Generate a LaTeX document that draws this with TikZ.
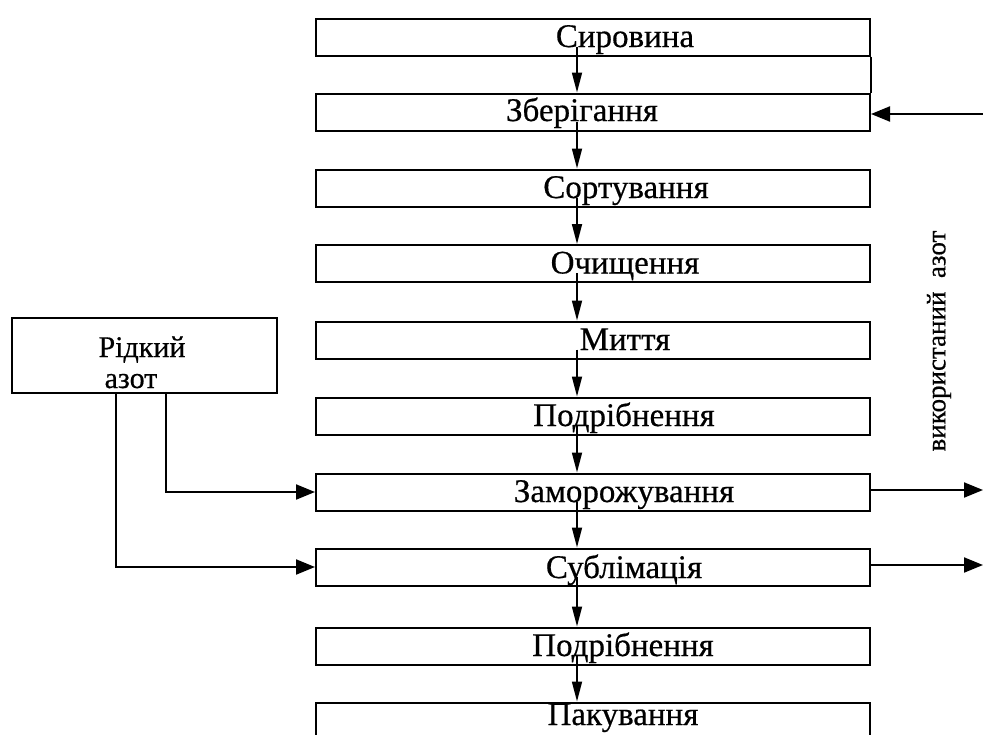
\documentclass[tikz,border=0pt]{standalone}
\usepackage{fontspec}
\setmainfont{Liberation Serif}[FakeBold=0.5]
\usetikzlibrary{arrows.meta,calc}
\tikzset{
  stage/.style={draw, line width=2pt, minimum width=554pt, minimum height=37pt, inner sep=0pt},
  stagetxt/.style={anchor=base, inner sep=0pt, font=\fontsize{33}{35}\selectfont},
  varr/.style={line width=1.7pt, -{Triangle[length=20pt,width=10pt]}},
  harr/.style={line width=2pt, -{Triangle[length=19pt,width=15pt]}},
  conn/.style={line width=2pt},
}
\begin{document}
\begin{tikzpicture}[x=1pt,y=1pt]
\useasboundingbox (0,0) rectangle (983,-734);
\clip (0,0) rectangle (983,-734);
\fill[white] (0,0) rectangle (983,-734);
% main stages
\node[stage] (b1) at (593,-37) {};
\node[stage] (b2) at (593,-112) {};
\node[stage] (b3) at (593,-188) {};
\node[stage] (b4) at (593,-263.5) {};
\node[stage] (b5) at (593,-340) {};
\node[stage] (b6) at (593,-416) {};
\node[stage] (b7) at (593,-492) {};
\node[stage] (b8) at (593,-567) {};
\node[stage] (b9) at (593,-646) {};
\node[stage] (b10) at (593,-721) {};
% texts
\node[stagetxt] (t1) at ([xshift=32pt,yshift=-10pt]b1.center) {Сировина};
\node[stagetxt] (t2) at ([xshift=-11pt,yshift=-9pt]b2.center) {Зберігання};
\node[stagetxt] (t3) at ([xshift=33pt,yshift=-10pt]b3.center) {Сортування};
\node[stagetxt] (t4) at ([xshift=32pt,yshift=-10pt]b4.center) {Очищення};
\node[stagetxt] (t5) at ([xshift=32pt,yshift=-10pt]b5.center) {Миття};
\node[stagetxt] (t6) at ([xshift=31pt,yshift=-10pt]b6.center) {Подрібнення};
\node[stagetxt] (t7) at ([xshift=31pt,yshift=-10pt]b7.center) {Заморожування};
\node[stagetxt] (t8) at ([xshift=31pt,yshift=-11pt]b8.center) {Сублімація};
\node[stagetxt] (t9) at ([xshift=30pt,yshift=-10pt]b9.center) {Подрібнення};
\node[stagetxt] (t10) at ([xshift=30pt,yshift=-4pt]b10.center) {Пакування};
% vertical arrows
\foreach \a/\b in {b1/b2,b2/b3,b3/b4,b4/b5,b5/b6,b6/b7,b7/b8,b8/b9,b9/b10}
  \draw[varr] ([xshift=-16pt,yshift=10pt]\a.south) -- ([xshift=-16pt]\b.north);
% right side link between first two boxes
\draw[conn] (b1.south east) -- (b2.north east);
% liquid nitrogen
\node[draw, line width=2pt, minimum width=265pt, minimum height=75pt, inner sep=0pt] (ln) at (144.5,-355.5) {};
\node[anchor=base, inner sep=0pt, font=\fontsize{30}{31}\selectfont] (ln1) at (142,-357) {Рідкий};
\node[anchor=base, inner sep=0pt, font=\fontsize{30}{31}\selectfont] (ln2) at (131,-388) {азот};
\coordinate (la) at (166,-393);
\coordinate (lb) at (116,-393);
\draw[harr] (la) |- (b7.west);
\draw[harr] (lb) |- (b8.west);
% used nitrogen
\coordinate (o7) at (983,-492);
\coordinate (o8) at (983,-567);
\coordinate (i2) at (983,-114);
\draw[harr] ([yshift=2pt]b7.east) -- ([yshift=2pt]o7);
\draw[harr] ([yshift=2pt]b8.east) -- ([yshift=2pt]o8);
\draw[harr] (i2) -- ([yshift=-2pt]b2.east);
\node[rotate=90, inner sep=0pt, font=\fontsize{27}{29}\selectfont] (used) at (939,-341) {використаний\ \ азот};
\end{tikzpicture}
\end{document}
